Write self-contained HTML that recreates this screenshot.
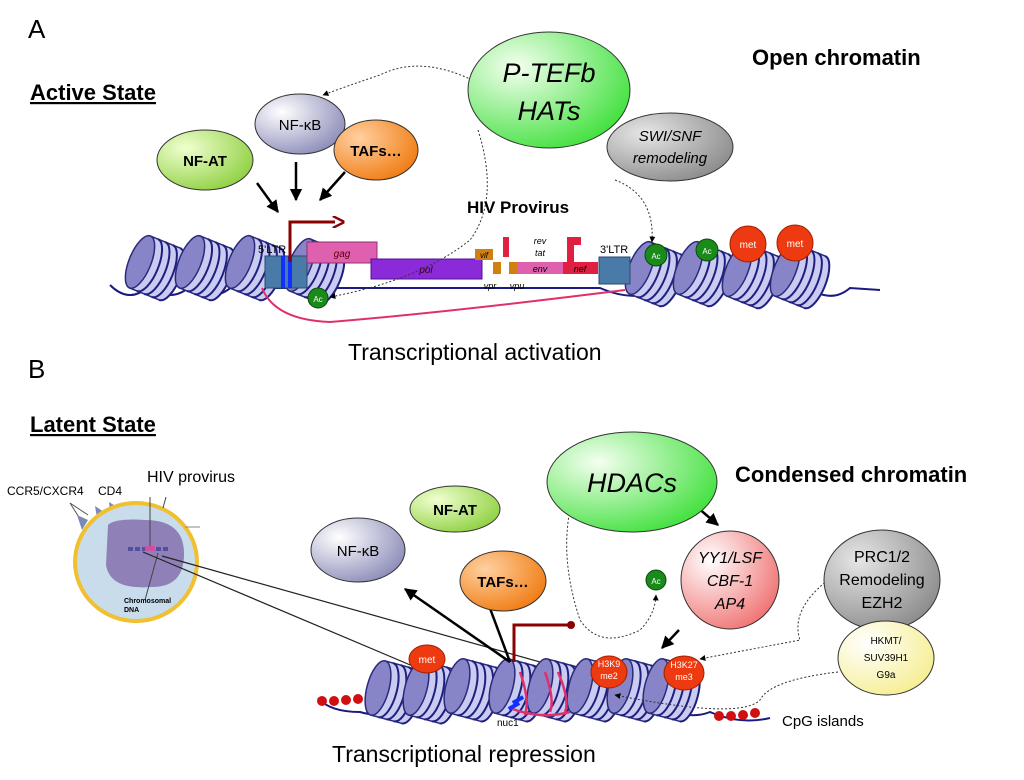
<!DOCTYPE html>
<html><head><meta charset="utf-8"><style>
body{margin:0;background:#fff}
svg{display:block;font-family:"Liberation Sans","DejaVu Sans",sans-serif}
</style></head><body>
<svg width="1024" height="780" viewBox="0 0 1024 780" xmlns="http://www.w3.org/2000/svg">
<defs>
<radialGradient id="gGreen" cx="0.3" cy="0.3" r="0.8"><stop offset="0" stop-color="#f4fff0"/><stop offset="1" stop-color="#3ee03a"/></radialGradient>
<radialGradient id="gLav" cx="0.3" cy="0.3" r="0.8"><stop offset="0" stop-color="#ffffff"/><stop offset="1" stop-color="#8a8ab8"/></radialGradient>
<radialGradient id="gOr" cx="0.3" cy="0.3" r="0.8"><stop offset="0" stop-color="#ffd0a0"/><stop offset="1" stop-color="#f07a10"/></radialGradient>
<radialGradient id="gYG" cx="0.3" cy="0.3" r="0.8"><stop offset="0" stop-color="#f0ffd0"/><stop offset="1" stop-color="#8ed040"/></radialGradient>
<radialGradient id="gGray" cx="0.3" cy="0.3" r="0.8"><stop offset="0" stop-color="#e6e6e6"/><stop offset="1" stop-color="#8a8a8a"/></radialGradient>
<radialGradient id="gPink" cx="0.3" cy="0.3" r="0.8"><stop offset="0" stop-color="#ffffff"/><stop offset="1" stop-color="#f07070"/></radialGradient>
<radialGradient id="gYel" cx="0.3" cy="0.3" r="0.8"><stop offset="0" stop-color="#ffffff"/><stop offset="1" stop-color="#f5ee90"/></radialGradient>
<g id="nuc">
<path d="M0,-28 L32,-28 A11,28 0 0 1 32,28 L0,28 Z" fill="#c9cbf0" stroke="#2a2a7a" stroke-width="1.5"/>
<path d="M8,-28 A11,28 0 0 1 8,28 M16,-28 A11,28 0 0 1 16,28 M24,-28 A11,28 0 0 1 24,28 M32,-28 A11,28 0 0 1 32,28" fill="none" stroke="#1f1f80" stroke-width="2"/>
<ellipse cx="0" cy="0" rx="11" ry="28" fill="#8884c8" stroke="#2a2a7a" stroke-width="1.5"/>
</g>
<marker id="ah" viewBox="0 0 10 10" refX="9" refY="5" markerWidth="5" markerHeight="5" orient="auto"><path d="M0,0 L10,5 L0,10 Z" fill="#000"/></marker>
<marker id="ahs" viewBox="0 0 10 10" refX="9" refY="5" markerWidth="6" markerHeight="6" orient="auto"><path d="M0,0 L10,5 L0,10 Z" fill="#000"/></marker>
<marker id="ahr" viewBox="0 0 10 10" refX="2" refY="5" markerWidth="4" markerHeight="4" orient="auto"><path d="M0,0 L10,5 L0,10" fill="none" stroke="#8b0000" stroke-width="2"/></marker>
</defs>

<text x="28" y="38" font-size="26">A</text>
<text x="30" y="100" font-size="22" font-weight="bold" text-decoration="underline">Active State</text>
<text x="752" y="65" font-size="22" font-weight="bold">Open chromatin</text>

<path d="M110,285 Q130,305 150,285 Q170,305 192,285 Q212,305 234,285 Q250,300 265,288 L600,288 Q640,305 665,285 Q690,305 712,285 Q735,305 758,285 Q780,305 805,285 Q830,305 850,288 L880,290" fill="none" stroke="#1a1a80" stroke-width="2"/>
<g transform="translate(140,262) rotate(22)"><use href="#nuc"/></g>
<g transform="translate(190,262) rotate(22)"><use href="#nuc"/></g>
<g transform="translate(240,262) rotate(22)"><use href="#nuc"/></g>
<g transform="translate(300,265) rotate(22)"><use href="#nuc"/></g>
<g transform="translate(640,268) rotate(22)"><use href="#nuc"/></g>
<g transform="translate(688,268) rotate(22)"><use href="#nuc"/></g>
<g transform="translate(737,270) rotate(22)"><use href="#nuc"/></g>
<g transform="translate(785,270) rotate(22)"><use href="#nuc"/></g>

<rect x="265" y="256" width="42" height="32" fill="#4a7aa8" stroke="#2a4a70"/>
<rect x="281" y="256" width="4" height="32" fill="#1030ff"/><rect x="288" y="256" width="4" height="32" fill="#1030ff"/>
<text x="258" y="253" font-size="11">5'LTR</text>
<rect x="307" y="242" width="70" height="21" fill="#e060b0" stroke="#903070"/>
<text x="342" y="257" font-size="10" font-style="italic" text-anchor="middle" fill="#500">gag</text>
<rect x="371" y="259" width="111" height="20" fill="#8a2ad8" stroke="#501090"/>
<text x="426" y="273" font-size="10" font-style="italic" text-anchor="middle" fill="#300">pol</text>
<rect x="475" y="249" width="18" height="11" fill="#d08010"/>
<text x="484" y="258" font-size="8" font-style="italic" text-anchor="middle">vif</text>
<rect x="493" y="262" width="8" height="12" fill="#d08010"/>
<rect x="503" y="237" width="6" height="20" fill="#e02040"/>
<rect x="509" y="262" width="8" height="12" fill="#d08010"/>
<rect x="517" y="262" width="46" height="12" fill="#e060b0"/>
<text x="540" y="272" font-size="9" font-style="italic" text-anchor="middle">env</text>
<rect x="563" y="262" width="35" height="12" fill="#e02040"/>
<text x="580" y="272" font-size="9" font-style="italic" text-anchor="middle">nef</text>
<rect x="567" y="237" width="7" height="25" fill="#e02040"/><rect x="567" y="237" width="14" height="8" fill="#e02040"/>
<text x="540" y="244" font-size="9" font-style="italic" text-anchor="middle">rev</text>
<text x="540" y="256" font-size="9" font-style="italic" text-anchor="middle">tat</text>
<text x="490" y="289" font-size="9" font-style="italic" text-anchor="middle">vpr</text>
<text x="517" y="289" font-size="9" font-style="italic" text-anchor="middle">vpu</text>
<text x="600" y="253" font-size="11">3'LTR</text>
<rect x="599" y="257" width="31" height="27" fill="#4a7aa8" stroke="#2a4a70"/>
<path d="M290,262 L290,222 L335,222" fill="none" stroke="#8b0000" stroke-width="3" marker-end="url(#ahr)"/>
<path d="M262,288 Q275,320 330,322 Q450,312 625,290" fill="none" stroke="#e0306a" stroke-width="2"/>
<circle cx="318" cy="298" r="10" fill="#1a8a1a" stroke="#0a4a0a"/><text x="318" y="302" font-size="8" fill="#fff" text-anchor="middle">Ac</text>
<circle cx="656" cy="255" r="11" fill="#1a8a1a" stroke="#0a4a0a"/><text x="656" y="259" font-size="8" fill="#fff" text-anchor="middle">Ac</text>
<circle cx="707" cy="250" r="11" fill="#1a8a1a" stroke="#0a4a0a"/><text x="707" y="254" font-size="8" fill="#fff" text-anchor="middle">Ac</text>
<circle cx="748" cy="244" r="18" fill="#ee3a10" stroke="#a02000"/><text x="748" y="248" font-size="10" fill="#fff" text-anchor="middle">met</text>
<circle cx="795" cy="243" r="18" fill="#ee3a10" stroke="#a02000"/><text x="795" y="247" font-size="10" fill="#fff" text-anchor="middle">met</text>

<path d="M472,80 Q420,55 380,75 Q350,85 323,95" fill="none" stroke="#333" stroke-dasharray="2,2" marker-end="url(#ahs)"/>
<path d="M478,130 Q500,200 470,240 Q420,280 330,297" fill="none" stroke="#333" stroke-dasharray="2,2" marker-end="url(#ahs)"/>
<path d="M615,180 Q655,195 652,242" fill="none" stroke="#333" stroke-dasharray="2,2" marker-end="url(#ahs)"/>
<line x1="257" y1="183" x2="278" y2="212" stroke="#000" stroke-width="2.5" marker-end="url(#ah)"/>
<line x1="296" y1="162" x2="296" y2="200" stroke="#000" stroke-width="2.5" marker-end="url(#ah)"/>
<line x1="345" y1="172" x2="320" y2="200" stroke="#000" stroke-width="2.5" marker-end="url(#ah)"/>

<ellipse cx="549" cy="90" rx="81" ry="58" fill="url(#gGreen)" stroke="#333"/>
<text x="549" y="82" font-size="27" font-style="italic" text-anchor="middle">P-TEFb</text>
<text x="549" y="120" font-size="27" font-style="italic" text-anchor="middle">HATs</text>
<ellipse cx="670" cy="147" rx="63" ry="34" fill="url(#gGray)" stroke="#333"/>
<text x="670" y="141" font-size="15" font-style="italic" text-anchor="middle">SWI/SNF</text>
<text x="670" y="163" font-size="15" font-style="italic" text-anchor="middle">remodeling</text>
<ellipse cx="300" cy="124" rx="45" ry="30" fill="url(#gLav)" stroke="#333"/>
<text x="300" y="130" font-size="15" text-anchor="middle">NF-κB</text>
<ellipse cx="376" cy="150" rx="42" ry="30" fill="url(#gOr)" stroke="#333"/>
<text x="376" y="156" font-size="15" font-weight="bold" text-anchor="middle">TAFs…</text>
<ellipse cx="205" cy="160" rx="48" ry="30" fill="url(#gYG)" stroke="#333"/>
<text x="205" y="166" font-size="15" font-weight="bold" text-anchor="middle">NF-AT</text>
<text x="467" y="213" font-size="17" font-weight="bold">HIV Provirus</text>
<text x="348" y="360" font-size="23">Transcriptional activation</text>

<text x="28" y="378" font-size="26">B</text>
<text x="30" y="432" font-size="22" font-weight="bold" text-decoration="underline">Latent State</text>
<text x="735" y="482" font-size="22" font-weight="bold">Condensed chromatin</text>

<text x="147" y="482" font-size="16">HIV provirus</text>
<text x="7" y="495" font-size="12">CCR5/CXCR4</text><text x="98" y="495" font-size="12">CD4</text>
<line x1="70" y1="503" x2="88" y2="515" stroke="#555"/><line x1="70" y1="503" x2="82" y2="522" stroke="#555"/>
<path d="M82,530 L77,515 L88,520 Z M97,518 L95,506 L104,512 Z M110,512 L109,502 L117,507 Z" fill="#7a8ab8"/>
<ellipse cx="136" cy="562" rx="61" ry="59" fill="#c8dcec" stroke="#f0c030" stroke-width="4"/>
<path d="M108,525 Q115,518 145,520 Q183,520 184,552 Q185,588 150,587 Q110,590 106,565 Z" fill="#9080b8"/>
<line x1="150" y1="497" x2="150" y2="548" stroke="#444"/>
<line x1="166" y1="497" x2="163" y2="508" stroke="#444"/>
<line x1="185" y1="527" x2="200" y2="527" stroke="#888"/>
<line x1="158" y1="553" x2="145" y2="600" stroke="#444"/>
<path d="M128,549 h40" stroke="#5050a0" stroke-width="4" stroke-dasharray="5,2"/>
<rect x="145" y="546" width="10" height="5" fill="#d050a0"/>
<text x="124" y="603" font-size="7" font-weight="bold">Chromosomal</text>
<text x="124" y="612" font-size="7" font-weight="bold">DNA</text>
<line x1="162" y1="556" x2="640" y2="690" stroke="#222" stroke-width="1.2"/>
<line x1="143" y1="552" x2="505" y2="705" stroke="#222" stroke-width="1.2"/>

<path d="M318,698 Q330,712 360,712 Q380,718 395,708 Q415,720 440,708 Q460,720 485,708 Q505,720 530,708 Q555,720 575,708 Q600,720 620,708 Q645,720 665,708 Q690,720 710,712 Q740,725 770,718" fill="none" stroke="#1a1a80" stroke-width="2"/>
<g transform="translate(378,688) rotate(15)"><use href="#nuc"/></g>
<g transform="translate(416,688) rotate(15)"><use href="#nuc"/></g>
<g transform="translate(457,686) rotate(15)"><use href="#nuc"/></g>
<g transform="translate(502,686) rotate(15)"><use href="#nuc"/></g>
<g transform="translate(540,686) rotate(15)"><use href="#nuc"/></g>
<g transform="translate(580,686) rotate(15)"><use href="#nuc"/></g>
<g transform="translate(620,686) rotate(15)"><use href="#nuc"/></g>
<g transform="translate(656,686) rotate(15)"><use href="#nuc"/></g>
<path d="M520,672 Q530,700 525,715 M545,672 Q555,700 550,712 M558,672 Q570,700 565,712" fill="none" stroke="#e0306a" stroke-width="2.5"/>
<path d="M510,708 Q540,720 570,712" fill="none" stroke="#e0306a" stroke-width="2.5"/>
<rect x="508" y="704" width="12" height="4" fill="#1030ff" transform="rotate(-30 514 706)"/>
<rect x="512" y="698" width="12" height="4" fill="#1030ff" transform="rotate(-30 518 700)"/>
<text x="497" y="726" font-size="10">nuc1</text>
<g fill="#d01010"><circle cx="322" cy="701" r="5"/><circle cx="334" cy="701" r="5"/><circle cx="346" cy="700" r="5"/><circle cx="358" cy="699" r="5"/>
<circle cx="719" cy="716" r="5"/><circle cx="731" cy="716" r="5"/><circle cx="743" cy="715" r="5"/><circle cx="755" cy="713" r="5"/></g>
<text x="782" y="726" font-size="15">CpG islands</text>
<ellipse cx="427" cy="659" rx="18" ry="14" fill="#ee3a10" stroke="#a02000"/><text x="427" y="663" font-size="10" fill="#fff" text-anchor="middle">met</text>
<ellipse cx="609" cy="672" rx="18" ry="16" fill="#ee3a10" stroke="#a02000"/><text x="609" y="667" font-size="9" fill="#fff" text-anchor="middle">H3K9</text><text x="609" y="679" font-size="9" fill="#fff" text-anchor="middle">me2</text>
<ellipse cx="684" cy="673" rx="20" ry="17" fill="#ee3a10" stroke="#a02000"/><text x="684" y="668" font-size="9" fill="#fff" text-anchor="middle">H3K27</text><text x="684" y="680" font-size="9" fill="#fff" text-anchor="middle">me3</text>
<path d="M514,662 L514,625 L570,625" fill="none" stroke="#8b0000" stroke-width="3"/><circle cx="571" cy="625" r="4" fill="#8b0000"/>

<line x1="510" y1="662" x2="405" y2="589" stroke="#000" stroke-width="2.5" marker-end="url(#ah)"/>
<line x1="510" y1="662" x2="485" y2="595" stroke="#000" stroke-width="2.5" marker-end="url(#ah)"/>
<line x1="679" y1="630" x2="662" y2="648" stroke="#000" stroke-width="2.5" marker-end="url(#ah)"/>
<line x1="697" y1="507" x2="718" y2="525" stroke="#000" stroke-width="2.5" marker-end="url(#ah)"/>
<path d="M570,510 Q560,560 580,620 Q600,650 640,630 Q655,615 656,595" fill="none" stroke="#333" stroke-dasharray="2,2" marker-end="url(#ahs)"/>
<path d="M828,580 Q790,610 800,640 L700,659" fill="none" stroke="#333" stroke-dasharray="2,2" marker-end="url(#ahs)"/>
<path d="M838,672 Q770,680 760,700 Q740,720 615,695" fill="none" stroke="#333" stroke-dasharray="2,2" marker-end="url(#ahs)"/>

<ellipse cx="632" cy="482" rx="85" ry="50" fill="url(#gGreen)" stroke="#333"/>
<text x="632" y="492" font-size="27" font-style="italic" text-anchor="middle">HDACs</text>
<ellipse cx="455" cy="509" rx="45" ry="23" fill="url(#gYG)" stroke="#333"/>
<text x="455" y="515" font-size="15" font-weight="bold" text-anchor="middle">NF-AT</text>
<ellipse cx="358" cy="550" rx="47" ry="32" fill="url(#gLav)" stroke="#333"/>
<text x="358" y="556" font-size="15" text-anchor="middle">NF-κB</text>
<ellipse cx="503" cy="581" rx="43" ry="30" fill="url(#gOr)" stroke="#333"/>
<text x="503" y="587" font-size="15" font-weight="bold" text-anchor="middle">TAFs…</text>
<circle cx="656" cy="580" r="10" fill="#1a8a1a" stroke="#0a4a0a"/><text x="656" y="584" font-size="8" fill="#fff" text-anchor="middle">Ac</text>
<circle cx="730" cy="580" r="49" fill="url(#gPink)" stroke="#333"/>
<text x="730" y="563" font-size="16" font-style="italic" text-anchor="middle">YY1/LSF</text>
<text x="730" y="586" font-size="16" font-style="italic" text-anchor="middle">CBF-1</text>
<text x="730" y="609" font-size="16" font-style="italic" text-anchor="middle">AP4</text>
<ellipse cx="882" cy="580" rx="58" ry="50" fill="url(#gGray)" stroke="#333"/>
<text x="882" y="562" font-size="16" text-anchor="middle">PRC1/2</text>
<text x="882" y="585" font-size="16" text-anchor="middle">Remodeling</text>
<text x="882" y="608" font-size="16" text-anchor="middle">EZH2</text>
<ellipse cx="886" cy="658" rx="48" ry="37" fill="url(#gYel)" stroke="#333"/>
<text x="886" y="644" font-size="10" text-anchor="middle">HKMT/</text>
<text x="886" y="661" font-size="10" text-anchor="middle">SUV39H1</text>
<text x="886" y="678" font-size="10" text-anchor="middle">G9a</text>
<text x="332" y="762" font-size="23">Transcriptional repression</text>
</svg>
</body></html>
